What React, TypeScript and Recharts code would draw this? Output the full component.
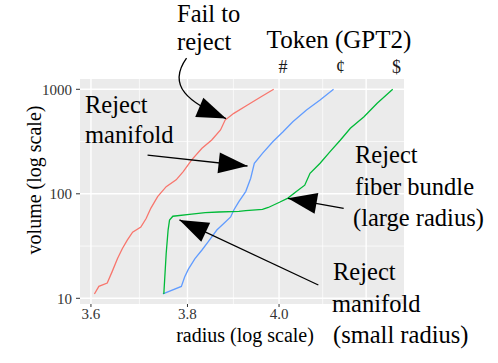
import React from 'react';
import { LineChart, Line, XAxis, YAxis, CartesianGrid, ReferenceLine } from 'recharts';

// radius (x, log scale) at the given volume levels
const volumeRed = [11, 13, 14, 18, 24, 30, 36, 43, 48, 58, 73, 94, 117, 136, 163, 211, 273, 327, 408, 508, 589, 707, 850, 1000];
const radiusRed = [3.607, 3.616, 3.633, 3.643, 3.654, 3.664, 3.674, 3.685, 3.702, 3.713, 3.723, 3.737, 3.755, 3.776, 3.791, 3.809, 3.831, 3.852, 3.871, 3.881, 3.9, 3.93, 3.96, 3.988];

const volumeBlue = [11, 13, 16, 19, 24, 29, 35, 45, 52, 60, 70, 84, 105, 141, 196, 244, 315, 393, 490, 634, 790, 1000];
const radiusBlue = [3.748, 3.787, 3.794, 3.802, 3.816, 3.831, 3.845, 3.863, 3.878, 3.893, 3.9, 3.911, 3.926, 3.937, 3.945, 3.963, 3.986, 4.009, 4.031, 4.062, 4.093, 4.124];

const volumeGreen = [11, 27, 45, 56, 61, 64, 66, 67, 68, 69, 71, 74, 83, 91, 105, 121, 157, 196, 253, 327, 424, 547, 735, 1000];
const radiusGreen = [3.75, 3.755, 3.759, 3.762, 3.769, 3.809, 3.838, 3.867, 3.911, 3.926, 3.963, 3.976, 4.001, 4.02, 4.039, 4.058, 4.07, 4.093, 4.116, 4.14, 4.163, 4.195, 4.226, 4.263];

const radiusTicks = [3.6, 3.8, 4.0];
const radiusMajor = [3.6, 3.8, 4.0, 4.2];
const radiusMinor = [3.699, 3.899, 4.099];
const volumeTicks = [10, 100, 1000];
const volumeMinor = [31.62, 316.2];

const tokenRadius = [4.009, 4.14, 4.272];
const tokenLabels = ['#', '¢', '$'];

const xDomain = [3.578, 4.29];
const yDomain = [8.82, 1255];

const toRows = (r: number[], v: number[]) => r.map((x, i) => ({ r: x, v: v[i] }));
const redData = toRows(radiusRed, volumeRed);
const blueData = toRows(radiusBlue, volumeBlue);
const greenData = toRows(radiusGreen, volumeGreen);

const SERIF = 'Liberation Serif';
const HEAD_LEN = 29;
const HEAD_HALF = 10.5;

function headPoints(tx: number, ty: number, fx: number, fy: number) {
  const dx = tx - fx;
  const dy = ty - fy;
  const len = Math.hypot(dx, dy) || 1;
  const ux = dx / len;
  const uy = dy / len;
  const bx = tx - ux * HEAD_LEN;
  const by = ty - uy * HEAD_LEN;
  return `${tx},${ty} ${bx - uy * HEAD_HALF},${by + ux * HEAD_HALF} ${bx + uy * HEAD_HALF},${by - ux * HEAD_HALF}`;
}

const StraightArrow = (props: any) => {
  const { x1, y1, x2, y2 } = props;
  return (
    <g>
      <line x1={x1} y1={y1} x2={x2} y2={y2} stroke="#000" strokeWidth={1.3} />
      <polygon points={headPoints(x2, y2, x1, y1)} fill="#000" />
    </g>
  );
};

const CurvedArrow = (props: any) => {
  const { x1, y1, x2, y2 } = props;
  const c1x = x1 - 20;
  const c1y = y1 + 28;
  const c2x = x2 - 37;
  const c2y = y2 - 15.5;
  return (
    <g>
      <path d={`M${x1},${y1} C${c1x},${c1y} ${c2x},${c2y} ${x2},${y2}`} fill="none" stroke="#000" strokeWidth={1.3} />
      <polygon points={headPoints(x2, y2, c2x, c2y)} fill="#000" />
    </g>
  );
};

const note = { fontFamily: SERIF, fontSize: 24.5, fill: '#000' };

export default function App() {
  return (
    <div style={{ position: 'absolute', left: 0, top: 0, width: 498, height: 363, background: '#fff' }}>
      <LineChart
        width={498}
        height={363}
        margin={{ top: 49, right: 94, bottom: 0, left: 0 }}
        style={{ fontFamily: SERIF }}
      >
        <CartesianGrid
          fill="#EBEBEB"
          fillOpacity={1}
          stroke="#FFFFFF"
          strokeWidth={0.7}
          verticalValues={radiusMinor}
          horizontalValues={volumeMinor}
        />
        <CartesianGrid
          stroke="#FFFFFF"
          strokeWidth={1.4}
          verticalValues={radiusMajor}
          horizontalValues={volumeTicks}
        />
        <XAxis
          dataKey="r"
          type="number"
          scale="log"
          domain={xDomain}
          allowDataOverflow
          ticks={radiusTicks}
          tickFormatter={(v: number) => v.toFixed(1)}
          height={59}
          tickSize={3}
          tickMargin={1}
          axisLine={false}
          tickLine={{ stroke: '#333' }}
          tick={{ fontFamily: SERIF, fontSize: 15, fill: '#333' }}
        />
        <XAxis
          xAxisId="top"
          orientation="top"
          dataKey="r"
          type="number"
          scale="log"
          domain={xDomain}
          allowDataOverflow
          ticks={tokenRadius}
          tickFormatter={(v: number) => tokenLabels[tokenRadius.indexOf(v)] ?? ''}
          height={30}
          tickSize={0}
          tickMargin={6}
          axisLine={false}
          tickLine={false}
          tick={{ fontFamily: SERIF, fontSize: 18, fill: '#1a1a1a' }}
        />
        <YAxis
          type="number"
          scale="log"
          domain={yDomain}
          allowDataOverflow
          ticks={volumeTicks}
          width={80}
          tickSize={4}
          tickMargin={4}
          axisLine={false}
          tickLine={{ stroke: '#333' }}
          tick={{ fontFamily: SERIF, fontSize: 15, fill: '#333' }}
        />
        <Line data={redData} dataKey="v" type="linear" stroke="#F8766D" strokeWidth={1.3} dot={false} isAnimationActive={false} />
        <Line data={blueData} dataKey="v" type="linear" stroke="#619CFF" strokeWidth={1.3} dot={false} isAnimationActive={false} />
        <Line data={greenData} dataKey="v" type="linear" stroke="#00BA38" strokeWidth={1.3} dot={false} isAnimationActive={false} />
        <ReferenceLine segment={[{ x: 3.798, y: 1993 }, { x: 3.883, y: 525 }]} ifOverflow="visible" shape={CurvedArrow} />
        <ReferenceLine segment={[{ x: 3.716, y: 235 }, { x: 3.93, y: 184.6 }]} ifOverflow="visible" shape={StraightArrow} />
        <ReferenceLine segment={[{ x: 4.1475, y: 72.6 }, { x: 4.0199, y: 90.6 }]} ifOverflow="visible" shape={StraightArrow} />
        <ReferenceLine segment={[{ x: 4.089, y: 13.4 }, { x: 3.783, y: 56.2 }]} ifOverflow="visible" shape={StraightArrow} />
      </LineChart>
      <svg width={498} height={363} style={{ position: 'absolute', left: 0, top: 0, pointerEvents: 'none' }}>
        <text x={339} y={47.5} textAnchor="middle" style={{ ...note, fontSize: 25 }}>Token (GPT2)</text>
        <text x={245} y={341.7} textAnchor="middle" style={{ ...note, fontSize: 20 }}>radius (log scale)</text>
        <text transform="translate(41,180) rotate(-90)" textAnchor="middle" style={{ ...note, fontSize: 20 }}>volume (log scale)</text>

        <text x={177} y={22} style={note}>Fail to</text>
        <text x={177} y={50} style={note}>reject</text>

        <text x={85} y={112.7} style={note}>Reject</text>
        <text x={85} y={143.3} style={note}>manifold</text>

        <text x={355} y={163.3} style={note}>Reject</text>
        <text x={355} y={195} style={note}>fiber bundle</text>
        <text x={353} y={226} style={note}>(large radius)</text>

        <text x={333} y={280} style={note}>Reject</text>
        <text x={332} y={311.5} style={note}>manifold</text>
        <text x={333} y={343} style={note}>(small radius)</text>
      </svg>
    </div>
  );
}
